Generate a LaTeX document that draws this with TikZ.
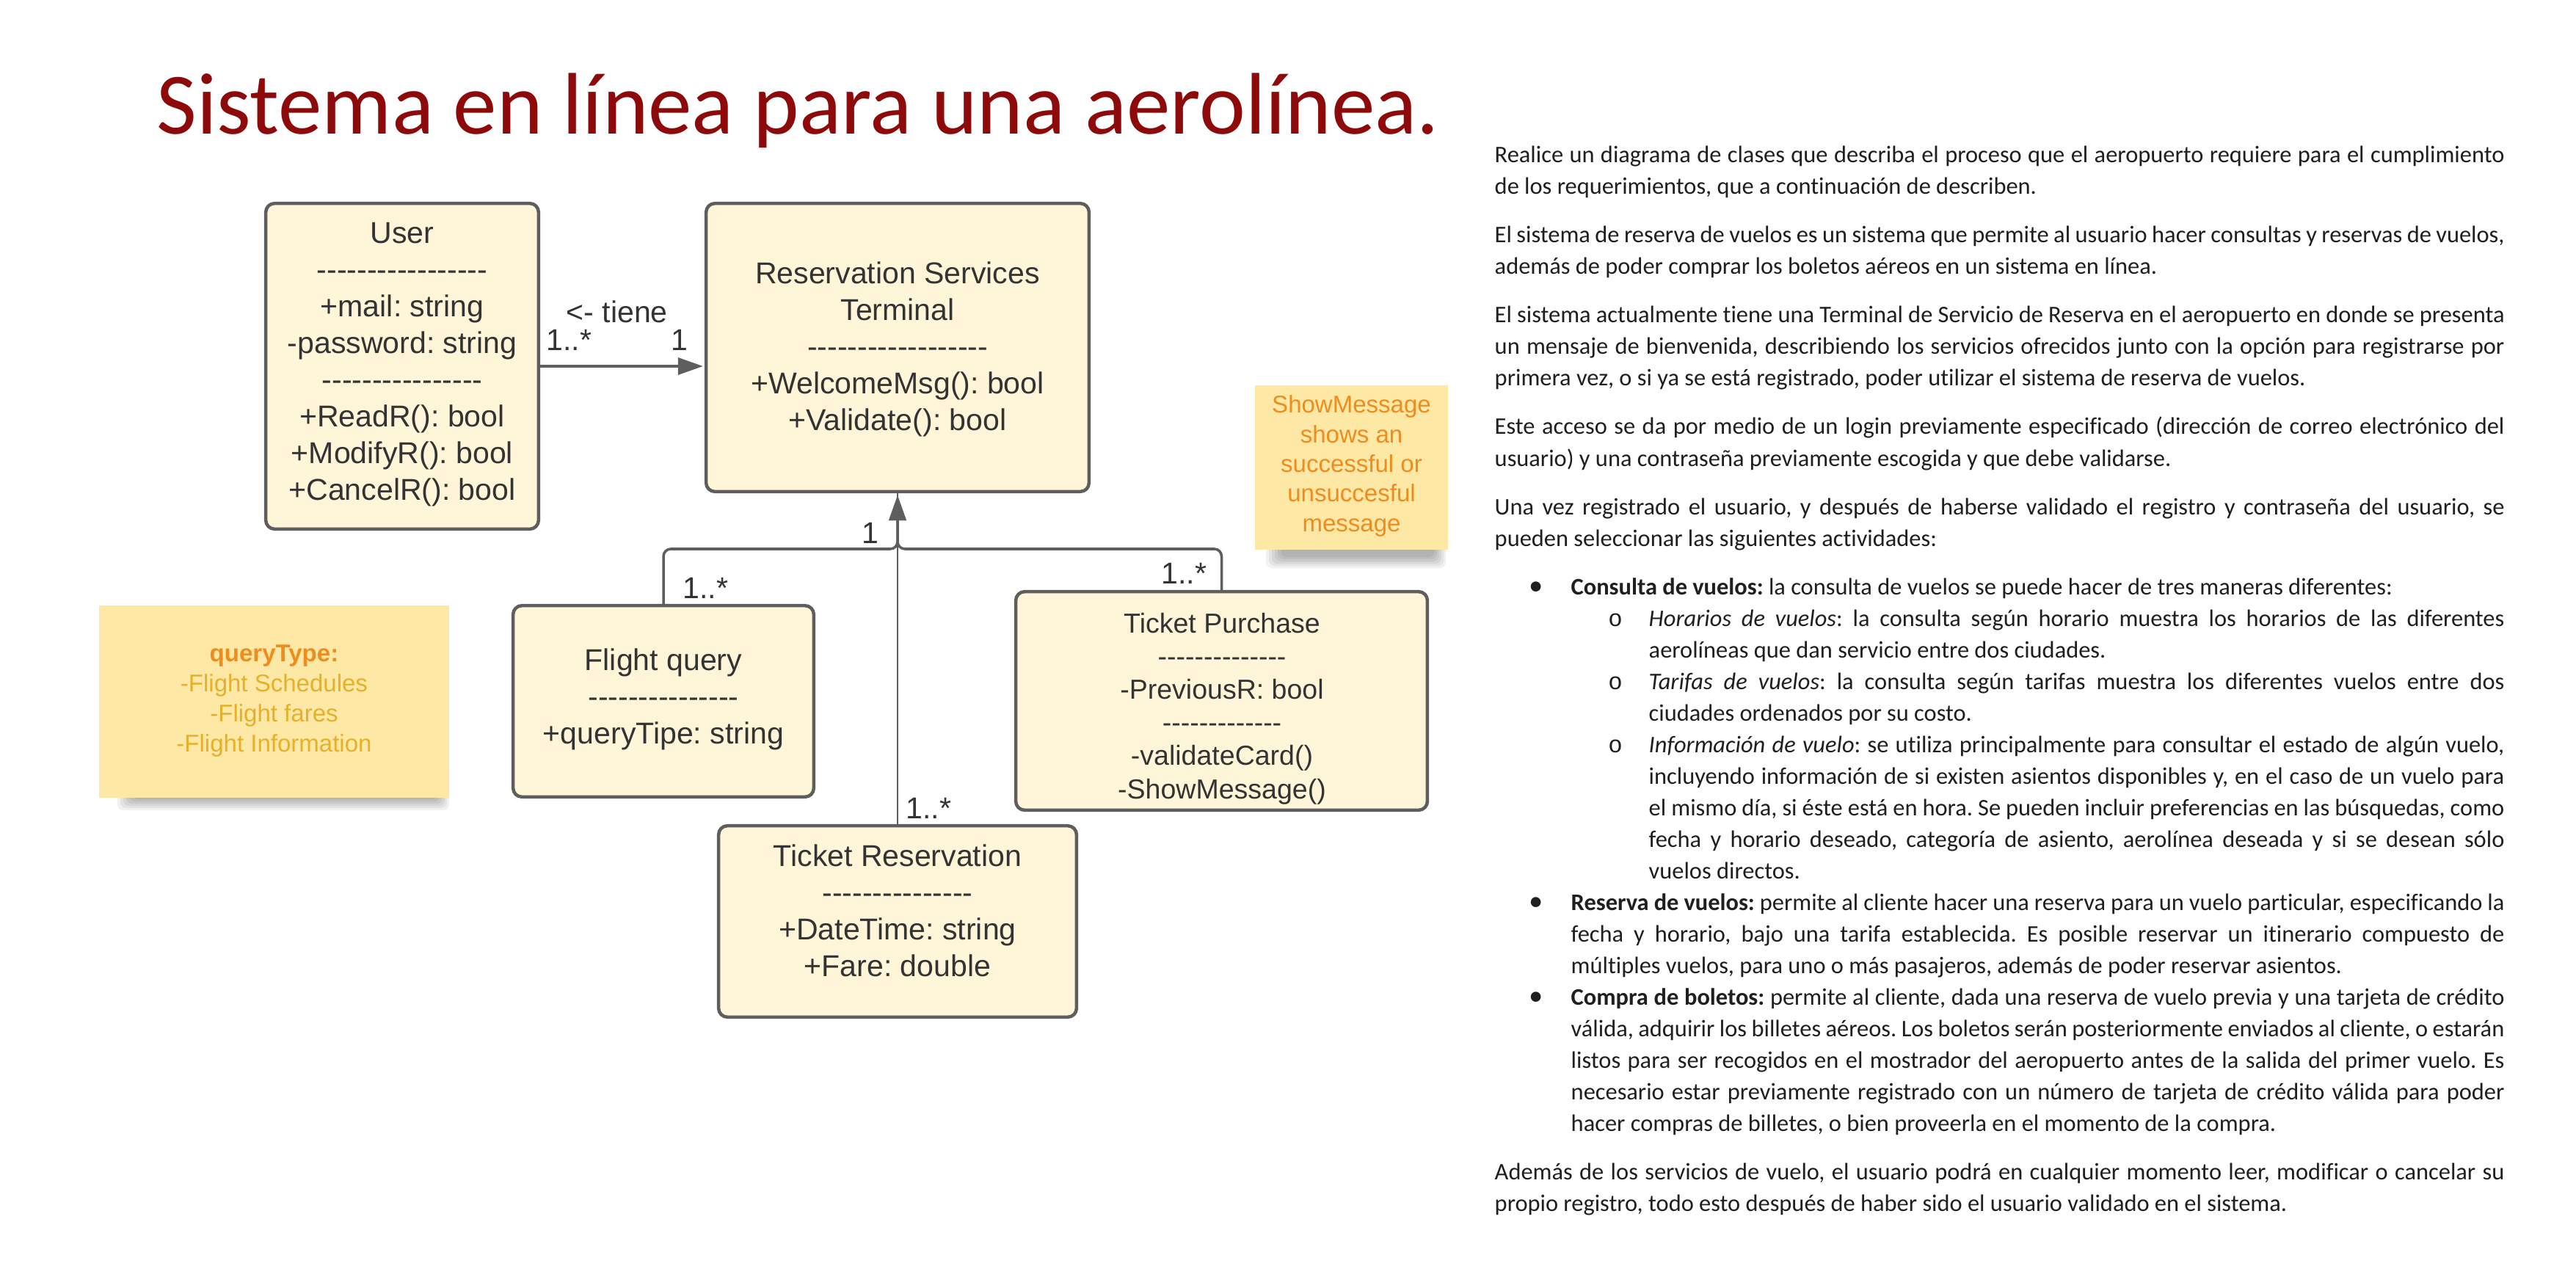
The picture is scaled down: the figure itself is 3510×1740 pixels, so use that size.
\documentclass[tikz,border=0pt]{standalone}
\usepackage{fontspec}
\setmainfont{Liberation Sans}
\newfontfamily\calf{Carlito}[Ligatures={NoCommon}]
\newfontfamily\monof{Liberation Mono}
\usetikzlibrary{arrows.meta}
\definecolor{boxfill}{HTML}{FFF5D8}
\definecolor{lineg}{HTML}{5E5E5E}
\definecolor{txtg}{HTML}{333333}
\definecolor{notefill}{HTML}{FDE9A5}
\definecolor{orng}{HTML}{F08C1E}
\definecolor{gold}{HTML}{E8B02A}
\definecolor{titlec}{HTML}{8E0A0A}
\definecolor{bodyc}{HTML}{1F1F1F}
\frenchspacing
\newcommand\dsh[1]{\foreach \dd in {1,...,#1}{-\kern0pt}}
\newcommand\clines[6]{\foreach \lineT [count=\k] in {#6}{\node[#5] (#1\k) at (#2,{#3+(\k-1)*#4}) {\lineT};}}
\newcommand\jline[5]{\node[bodytxt] (#1) at (#2,#3) {\makebox[#4][s]{#5}};}
\newcommand\pline[4]{\node[bodytxt] (#1) at (#2,#3) {#4};}
\newcommand\nshadow[4]{\foreach \s in {0,...,5}{\fill[black, opacity=0.055, rounded corners=0.08cm] ({#1+\s*4},{#2}) rectangle ({#3-\s*3},{#4-\s*3});}}
\begin{document}
\begin{tikzpicture}[x=0.01cm, y=-0.01cm,
  cls/.style={draw=lineg, line width=1.28pt, fill=boxfill, rounded corners=0.12cm, inner sep=0pt},
  clstext/.style={anchor=base, inner sep=0pt, text=txtg, font=\fontsize{11.67}{14}\selectfont},
  tptext/.style={clstext, font=\fontsize{10.67}{13}\selectfont},
  lbl/.style={anchor=base west, inner sep=0pt, text=txtg, font=\fontsize{11.67}{14}\selectfont},
  note/.style={fill=notefill, inner sep=0pt},
  notebold/.style={anchor=base, inner sep=0pt, text=orng, font=\bfseries\fontsize{9.39}{11}\selectfont},
  noteo/.style={anchor=base, inner sep=0pt, text=orng, font=\fontsize{9.39}{11}\selectfont},
  noteg/.style={anchor=base, inner sep=0pt, text=gold, font=\fontsize{9.39}{11}\selectfont},
  conn/.style={draw=lineg, line width=1pt},
  thinconn/.style={draw=lineg, line width=0.55pt},
  tip/.style={-{Triangle[length=0.34cm,width=0.23cm]}},
  bodytxt/.style={anchor=base west, inner sep=0pt, text=bodyc, font=\calf\fontsize{9.22}{11}\selectfont},
  bul/.style={anchor=base, inner sep=0pt, text=bodyc, font=\calf\fontsize{11}{11}\selectfont},
  subbul/.style={anchor=base, inner sep=0pt, text=bodyc, font=\monof\fontsize{9.22}{11}\selectfont}
]
\useasboundingbox (0,0) rectangle (3510,1740);
\fill[white] (0,0) rectangle (3510,1740);

% title
\node[anchor=base west, inner sep=0pt, text=titlec, font=\calf\fontsize{33.86}{40}\selectfont] (title) at (213,183) {Sistema en línea para una aerolínea.};

% sticky notes
\nshadow{160}{1040}{612}{1104}
\nshadow{1725}{700}{1970}{774}
\node[note, minimum width=4.77cm, minimum height=2.62cm] (qnote) at (373.5,956) {};
\node[note, minimum width=2.63cm, minimum height=2.24cm] (snote) at (1841.5,637) {};
\node[notebold] (q1) at (373.5,901) {queryType:};
\clines{q}{373.5}{942}{41}{noteg}{-Flight Schedules,-Flight fares,-Flight Information}
\clines{s}{1841.5}{563}{40.25}{noteo}{ShowMessage,shows an,successful or,unsuccesful,message}

% class boxes
\node[cls, minimum width=3.715cm, minimum height=4.435cm] (user) at (548,499) {};
\node[cls, minimum width=5.215cm, minimum height=3.925cm] (rst) at (1223,473.5) {};
\node[cls, minimum width=4.095cm, minimum height=2.605cm] (fq) at (904,955.5) {};
\node[cls, minimum width=5.605cm, minimum height=2.975cm] (tp) at (1664.5,955) {};
\node[cls, minimum width=4.875cm, minimum height=2.605cm] (tr) at (1223,1255.5) {};

% connectors
\coordinate (j) at (1223,748);
\coordinate (ua) at (user.east -| rst.west);
\draw[thinconn] (tr.north) -- (rst.south);
\draw[conn, rounded corners=0.1cm, tip] (fq.north) |- (j) -- ([yshift=-0.03cm]rst.south);
\draw[conn, rounded corners=0.1cm, tip] (tp.north) |- (j) -- ([yshift=-0.03cm]rst.south);
\draw[conn, tip] (user.east) -- ([xshift=-0.02cm]ua);

% class texts
\clines{u}{548}{332}{50}{clstext}{User,{\dsh{17}},+mail: string,-password: string,{\dsh{16}},+ReadR(): bool,+ModifyR(): bool,+CancelR(): bool}
\clines{r}{1223}{387}{50}{clstext}{Reservation Services,Terminal,{\dsh{18}},+WelcomeMsg(): bool,+Validate(): bool}
\clines{f}{904}{913}{50}{clstext}{Flight query,{\dsh{15}},+queryTipe: string}
\clines{p}{1665}{862}{45.2}{tptext}{Ticket Purchase,{\dsh{14}},-PreviousR: bool,{\dsh{13}},-validateCard(),-ShowMessage()}
\clines{t}{1223}{1180}{50}{clstext}{Ticket Reservation,{\dsh{15}},+DateTime: string,+Fare: double}

% multiplicity labels
\node[lbl] (tiene) at (771,440) {<- tiene};
\node[lbl] (m1) at (744,478) {1..*};
\node[lbl] (m2) at (914,478) {1};
\node[lbl] (m3) at (1174,740) {1};
\node[lbl] (m4) at (930,815) {1..*};
\node[lbl] (m5) at (1582,795) {1..*};
\node[lbl] (m6) at (1234,1115) {1..*};

% right text
\jline{a1}{2036}{222}{13.75cm}{Realice un diagrama de clases que describa el proceso que el aeropuerto requiere para el cumplimiento}
\pline{a2}{2036}{265}{de los requerimientos, que a continuación de describen.}
\jline{b1}{2036}{331}{13.75cm}{El sistema de reserva de vuelos es un sistema que permite al usuario hacer consultas y reservas de vuelos,}
\pline{b2}{2036}{374}{además de poder comprar los boletos aéreos en un sistema en línea.}
\jline{c1}{2036}{440}{13.75cm}{El sistema actualmente tiene una Terminal de Servicio de Reserva en el aeropuerto en donde se presenta}
\jline{c2}{2036}{483}{13.75cm}{un mensaje de bienvenida, describiendo los servicios ofrecidos junto con la opción para registrarse por}
\pline{c3}{2036}{526}{primera vez, o si ya se está registrado, poder utilizar el sistema de reserva de vuelos.}
\jline{d1}{2036}{592}{13.75cm}{Este acceso se da por medio de un login previamente especificado (dirección de correo electrónico del}
\pline{d2}{2036}{635}{usuario) y una contraseña previamente escogida y que debe validarse.}
\jline{e1}{2036}{701}{13.75cm}{Una vez registrado el usuario, y después de haberse validado el registro y contraseña del usuario, se}
\pline{e2}{2036}{744}{pueden seleccionar las siguientes actividades:}

\node[bul] (bu1) at (2093,810) {•};
\pline{f1}{2140}{810}{\textbf{Consulta de vuelos:} la consulta de vuelos se puede hacer de tres maneras diferentes:}
\node[subbul] (sb1) at (2201,853) {o};
\jline{g1}{2246}{853}{11.65cm}{\textit{Horarios de vuelos}: la consulta según horario muestra los horarios de las diferentes}
\pline{g2}{2246}{896}{aerolíneas que dan servicio entre dos ciudades.}
\node[subbul] (sb2) at (2201,939) {o};
\jline{h1}{2246}{939}{11.65cm}{\textit{Tarifas de vuelos}: la consulta según tarifas muestra los diferentes vuelos entre dos}
\pline{h2}{2246}{982}{ciudades ordenados por su costo.}
\node[subbul] (sb3) at (2201,1025) {o};
\jline{i1}{2246}{1025}{11.65cm}{\textit{Información de vuelo}: se utiliza principalmente para consultar el estado de algún vuelo,}
\jline{i2}{2246}{1068}{11.65cm}{incluyendo información de si existen asientos disponibles y, en el caso de un vuelo para}
\jline{i3}{2246}{1111}{11.65cm}{el mismo día, si éste está en hora. Se pueden incluir preferencias en las búsquedas, como}
\jline{i4}{2246}{1154}{11.65cm}{fecha y horario deseado, categoría de asiento, aerolínea deseada y si se desean sólo}
\pline{i5}{2246}{1197}{vuelos directos.}
\node[bul] (bu2) at (2093,1240) {•};
\jline{k1}{2140}{1240}{12.71cm}{\textbf{Reserva de vuelos:} permite al cliente hacer una reserva para un vuelo particular, especificando la}
\jline{k2}{2140}{1283}{12.71cm}{fecha y horario, bajo una tarifa establecida. Es posible reservar un itinerario compuesto de}
\pline{k3}{2140}{1326}{múltiples vuelos, para uno o más pasajeros, además de poder reservar asientos.}
\node[bul] (bu3) at (2093,1369) {•};
\jline{l1}{2140}{1369}{12.71cm}{\textbf{Compra de boletos:} permite al cliente, dada una reserva de vuelo previa y una tarjeta de crédito}
\jline{l2}{2140}{1412}{12.71cm}{válida, adquirir los billetes aéreos. Los boletos serán posteriormente enviados al cliente, o estarán}
\jline{l3}{2140}{1455}{12.71cm}{listos para ser recogidos en el mostrador del aeropuerto antes de la salida del primer vuelo. Es}
\jline{l4}{2140}{1498}{12.71cm}{necesario estar previamente registrado con un número de tarjeta de crédito válida para poder}
\pline{l5}{2140}{1541}{hacer compras de billetes, o bien proveerla en el momento de la compra.}
\jline{n1}{2036}{1607}{13.75cm}{Además de los servicios de vuelo, el usuario podrá en cualquier momento leer, modificar o cancelar su}
\pline{n2}{2036}{1650}{propio registro, todo esto después de haber sido el usuario validado en el sistema.}
\end{tikzpicture}
\end{document}
